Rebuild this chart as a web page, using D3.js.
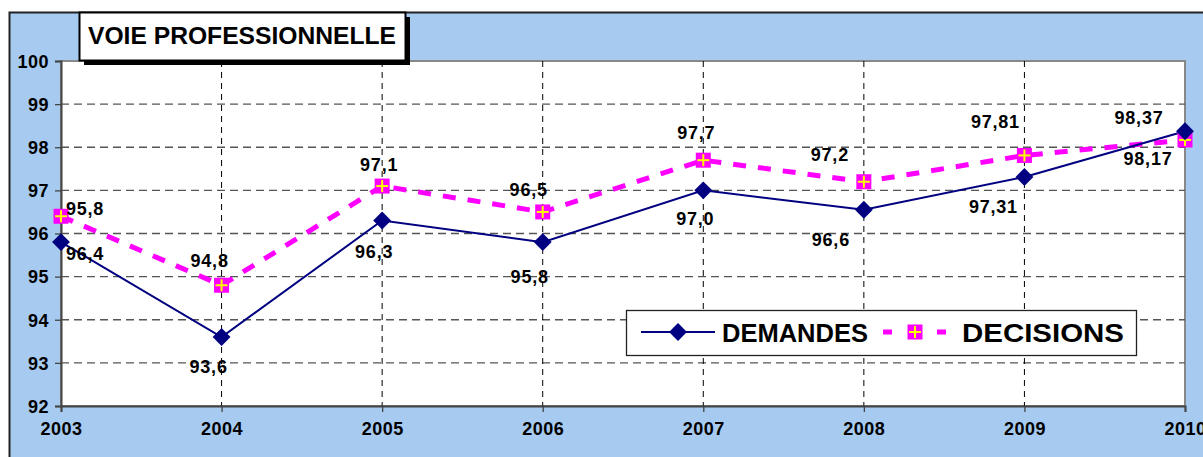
<!DOCTYPE html>
<html>
<head>
<meta charset="utf-8">
<script src="https://cdn.jsdelivr.net/npm/d3@7"></script>
<style>
  body { margin: 0; background: #fff; }
  svg { display: block; }
</style>
</head>
<body>
<svg id="chart" width="1203" height="457"></svg>
<script>
    var years = [2003, 2004, 2005, 2006, 2007, 2008, 2009, 2010];
    var demandes = [95.8, 93.6, 96.3, 95.8, 97.0, 96.55, 97.31, 98.37];
    var decisions = [96.4, 94.8, 97.1, 96.5, 97.7, 97.2, 97.81, 98.17];
    // labels as printed on the original chart
    var demandesLabels = ["96,4", "93,6", "96,3", "95,8", "97,0", "96,6", "97,31", "98,37"];
    var decisionsLabels = ["95,8", "94,8", "97,1", "96,5", "97,7", "97,2", "97,81", "98,17"];
    var yTicks = [92, 93, 94, 95, 96, 97, 98, 99, 100];

    var font = "Liberation Sans, Arial, sans-serif";
    var svg = d3.select("#chart");

    // outer chart area
    svg.append("rect")
        .attr("x", 9.5).attr("y", 12.5)
        .attr("width", 1210).attr("height", 460)
        .attr("fill", "#a6caf0")
        .attr("stroke", "#222").attr("stroke-width", 2);

    var plotL = 61, plotR = 1185, plotT = 61, plotB = 406;

    var x = d3.scalePoint().domain(years).range([plotL, plotR]);
    var y = d3.scaleLinear().domain([92, 100]).range([plotB, plotT]);

    // plot area
    svg.append("rect")
        .attr("x", plotL).attr("y", plotT)
        .attr("width", plotR - plotL).attr("height", plotB - plotT)
        .attr("fill", "#fff")
        .attr("stroke", "#888").attr("stroke-width", 2);

    // horizontal grid
    svg.append("g").selectAll("line")
        .data(yTicks.filter(function (d) { return d > 92 && d < 100; }))
        .enter().append("line")
        .attr("x1", plotL).attr("x2", plotR)
        .attr("y1", function (d) { return y(d); })
        .attr("y2", function (d) { return y(d); })
        .attr("stroke", "#555").attr("stroke-width", 1.3)
        .attr("stroke-dasharray", "8,5");

    // vertical grid
    svg.append("g").selectAll("line")
        .data(years.slice(1, -1))
        .enter().append("line")
        .attr("y1", plotT).attr("y2", plotB)
        .attr("x1", function (d) { return x(d); })
        .attr("x2", function (d) { return x(d); })
        .attr("stroke", "#000").attr("stroke-width", 1)
        .attr("stroke-dasharray", "6,5");

    // axes
    var yAxis = svg.append("g")
        .attr("transform", "translate(" + plotL + ",0)")
        .call(d3.axisLeft(y).tickValues(yTicks).tickSize(6).tickPadding(6).tickFormat(d3.format("d")));
    var xAxis = svg.append("g")
        .attr("transform", "translate(0," + plotB + ")")
        .call(d3.axisBottom(x).tickSize(6).tickPadding(10).tickFormat(d3.format("d")));

    [yAxis, xAxis].forEach(function (ax) {
        ax.select(".domain").attr("stroke", "#444").attr("stroke-width", 2);
        ax.selectAll(".tick line").attr("stroke", "#444").attr("stroke-width", 1.3);
        ax.selectAll(".tick text")
            .attr("font-family", font)
            .attr("font-weight", "bold")
            .attr("font-size", "18px")
            .attr("letter-spacing", "0.5px")
            .attr("fill", "#000");
    });
    yAxis.selectAll(".tick text").attr("dy", "0.35em");

    var line = d3.line()
        .x(function (d, i) { return x(years[i]); })
        .y(function (d) { return y(d); });

    // decisions series (dashed magenta)
    svg.append("path")
        .datum(decisions)
        .attr("d", line)
        .attr("fill", "none")
        .attr("stroke", "#ff00ff")
        .attr("stroke-width", 5)
        .attr("stroke-dasharray", "13,12");

    svg.append("path")
        .datum(demandes)
        .attr("d", line)
        .attr("fill", "none")
        .attr("stroke", "#000080")
        .attr("stroke-width", 2);

    function diamond(g, cx, cy) {
        g.append("path")
            .attr("d", d3.symbol().type(d3.symbolSquare).size(160)())
            .attr("transform", "translate(" + cx + "," + cy + ") rotate(45)")
            .attr("fill", "#000080");
    }

    function plusMarker(g, cx, cy) {
        g.append("rect")
            .attr("x", cx - 7.5).attr("y", cy - 7.5)
            .attr("width", 15).attr("height", 15)
            .attr("fill", "#ff00ff");
        g.append("line")
            .attr("x1", cx - 6).attr("x2", cx + 6)
            .attr("y1", cy).attr("y2", cy)
            .attr("stroke", "#ffff00").attr("stroke-width", 2);
        g.append("line")
            .attr("x1", cx).attr("x2", cx)
            .attr("y1", cy - 6).attr("y2", cy + 6)
            .attr("stroke", "#ffff00").attr("stroke-width", 2);
    }

    var marks = svg.append("g");
    decisions.forEach(function (d, i) { plusMarker(marks, x(years[i]), y(d)); });
    demandes.forEach(function (d, i) { diamond(marks, x(years[i]), y(d)); });

    // data labels: offsets from the marker
    var decOff = [[24, -8], [-12, -25], [-3, -21], [-14, -22], [-7, -27], [-34, -27], [-29, -34], [-37, 19]];
    var demOff = [[24, 12], [-13, 30], [-8, 31], [-13, 35], [-8, 28], [-33, 30], [-31, 30], [-46, -14]];

    function addLabels(vals, labels, off) {
        svg.append("g").selectAll("text")
            .data(vals)
            .enter().append("text")
            .attr("x", function (d, i) { return x(years[i]) + off[i][0]; })
            .attr("y", function (d, i) { return y(d) + off[i][1]; })
            .attr("text-anchor", "middle")
            .attr("dy", "0.35em")
            .attr("font-family", font)
            .attr("font-weight", "bold")
            .attr("font-size", "18px")
            .attr("letter-spacing", "0.8px")
            .text(function (d, i) { return labels[i]; });
    }
    addLabels(decisions, decisionsLabels, decOff);
    addLabels(demandes, demandesLabels, demOff);

    // title box with shadow
    svg.append("rect")
        .attr("x", 84).attr("y", 17)
        .attr("width", 326).attr("height", 48)
        .attr("fill", "#000");
    svg.append("rect")
        .attr("x", 79.5).attr("y", 12.5)
        .attr("width", 326).attr("height", 48)
        .attr("fill", "#fff")
        .attr("stroke", "#000").attr("stroke-width", 2);
    svg.append("text")
        .attr("x", 242).attr("y", 36)
        .attr("dy", "0.35em")
        .attr("text-anchor", "middle")
        .attr("font-family", font)
        .attr("font-weight", "bold")
        .attr("font-size", "23px")
        .attr("textLength", 308)
        .attr("lengthAdjust", "spacingAndGlyphs")
        .text("VOIE PROFESSIONNELLE");

    // legend
    var lg = svg.append("g");
    lg.append("rect")
        .attr("x", 626.5).attr("y", 310.5)
        .attr("width", 510).attr("height", 45)
        .attr("fill", "#fff")
        .attr("stroke", "#222").attr("stroke-width", 1.3);
    lg.append("line")
        .attr("x1", 641).attr("x2", 715)
        .attr("y1", 332).attr("y2", 332)
        .attr("stroke", "#000080").attr("stroke-width", 2);
    diamond(lg, 678, 332);
    lg.append("text")
        .attr("x", 722).attr("y", 333).attr("dy", "0.35em")
        .attr("font-family", font).attr("font-weight", "bold").attr("font-size", "25px")
        .attr("textLength", 146).attr("lengthAdjust", "spacingAndGlyphs")
        .text("DEMANDES");
    [[883, 892], [937, 946]].forEach(function (s) {
        lg.append("line")
            .attr("x1", s[0]).attr("x2", s[1])
            .attr("y1", 332).attr("y2", 332)
            .attr("stroke", "#ff00ff").attr("stroke-width", 5);
    });
    plusMarker(lg, 915, 332);
    lg.append("text")
        .attr("x", 962).attr("y", 333).attr("dy", "0.35em")
        .attr("font-family", font).attr("font-weight", "bold").attr("font-size", "25px")
        .attr("textLength", 162).attr("lengthAdjust", "spacingAndGlyphs")
        .text("DECISIONS");
</script>
</body>
</html>
